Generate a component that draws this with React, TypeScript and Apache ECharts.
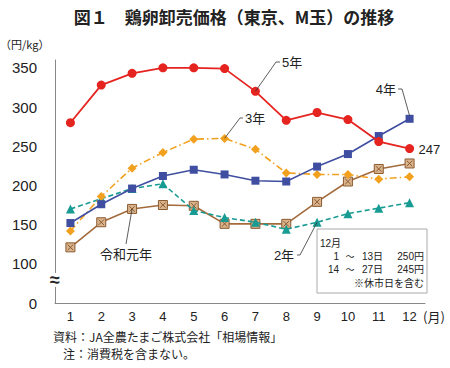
import React, { useEffect, useRef } from "react";
import * as echarts from "echarts";

const months = ["1", "2", "3", "4", "5", "6", "7", "8", "9", "10", "11", "12"];
const seriesNames = ["令和元年", "2年", "3年", "4年", "5年"];
const r1 = [121, 153, 170, 175, 174, 151, 151, 151, 179, 205, 221, 228];
const r2 = [170, 183, 196, 202, 168, 159, 153, 144, 153, 164, 171, 178];
const r3 = [142, 186, 222, 242, 259, 260, 246, 216, 214, 214, 208, 211];
const r4 = [152, 176, 196, 212, 220, 214, 206, 205, 224, 240, 263, 285];
const r5 = [280, 328, 343, 350, 350, 349, 320, 283, 293, 284, 256, 247];
const yTicks = [50, 100, 150, 200, 250, 300, 350];

const FONT = "'Liberation Sans', 'Noto Sans CJK JP', sans-serif";
const JP = "'Noto Sans CJK JP', sans-serif";

export default function App() {
  const ref = useRef<HTMLDivElement>(null);
  useEffect(() => {
    const chart = echarts.init(ref.current!, null, { renderer: "svg" });
    const base: any = {
      animation: false,
      backgroundColor: "#fff",
      grid: { left: 55, right: 25, top: 60, bottom: 65 },
      xAxis: {
        type: "category",
        data: months,
        boundaryGap: true,
        axisLine: { lineStyle: { color: "#888", width: 1 } },
        axisTick: { show: false },
        axisLabel: { fontSize: 13, color: "#222", margin: 7, fontFamily: FONT },
      },
      yAxis: {
        type: "value",
        min: 50,
        max: 360,
        interval: 50,
        axisLine: { show: true, lineStyle: { color: "#888", width: 1 } },
        axisTick: { show: false },
        splitLine: { show: false },
        axisLabel: {
          fontSize: 15,
          color: "#222",
          margin: 18,
          fontFamily: FONT,
          formatter: (v: number) =>
            v === yTicks[0] ? "0" : yTicks.indexOf(v) >= 0 ? String(v) : "",
        },
      },
      series: [
        {
          name: seriesNames[0],
          type: "line",
          data: r1,
          symbol: "path://M0,0L10,0L10,10L0,10Z M2,2L8,8 M8,2L2,8",
          symbolSize: 9,
          lineStyle: { color: "#a36b3c", width: 1.6 },
          itemStyle: { color: "#d9b38c", borderColor: "#8a5a30", borderWidth: 1 },
          z: 2,
        },
        {
          name: seriesNames[1],
          type: "line",
          data: r2,
          symbol: "triangle",
          symbolSize: 9,
          lineStyle: { color: "#179b92", width: 1.6, type: [5, 3] },
          itemStyle: { color: "#179b92" },
          z: 3,
        },
        {
          name: seriesNames[2],
          type: "line",
          data: r3,
          symbol: "diamond",
          symbolSize: 9,
          lineStyle: { color: "#f2a11f", width: 1.6, type: [7, 3, 1.5, 3] },
          itemStyle: { color: "#f2a11f" },
          z: 4,
        },
        {
          name: seriesNames[3],
          type: "line",
          data: r4,
          symbol: "rect",
          symbolSize: 8,
          lineStyle: { color: "#3f4ea0", width: 1.6 },
          itemStyle: { color: "#3f4ea0" },
          z: 5,
        },
        {
          name: seriesNames[4],
          type: "line",
          data: r5,
          symbol: "circle",
          symbolSize: 9,
          lineStyle: { color: "#e52420", width: 1.8 },
          itemStyle: { color: "#e52420" },
          z: 6,
        },
      ],
    };
    chart.setOption(base);

    const px = (i: number, arr: number[]) =>
      chart.convertToPixel({ gridIndex: 0 }, [months[i], arr[i]]) as number[];
    const p5 = px(6, r5);
    const p3 = px(5, r3);
    const p4 = px(11, r4);
    const p1 = px(2, r1);
    const p2 = px(8, r2);
    const pEnd = px(11, r5);

    const lineStyle = { stroke: "#333", lineWidth: 0.8, fill: null };
    const txt = (x: number, y: number, text: string, size: number, align = "left", extra: any = {}) => ({
      type: "text",
      x,
      y,
      z: 100,
      style: {
        text,
        fontSize: size,
        fill: "#222",
        align,
        verticalAlign: "middle",
        fontFamily: FONT,
        ...extra,
      },
    });

    chart.setOption({
      graphic: [
        txt(234, 16, "図１　鶏卵卸売価格（東京、M玉）の推移", 17, "center", { fontWeight: "bold", fontFamily: JP }),
        txt(0, 44, "（円/kg）", 11, "left", { fontFamily: JP }),
        { type: "rect", z: 90, shape: { x: 49, y: 273, width: 13, height: 14 }, style: { fill: "#fff" } },
        txt(55, 280, "≈", 18, "center", { fontWeight: "bold" }),
        txt(423, 316, "(月)", 13, "left", { fontFamily: JP }),
        // leaders
        { type: "polyline", z: 99, shape: { points: [[280, 62], [276, 62], p5] }, style: lineStyle },
        txt(282, 62, "5年", 13),
        { type: "polyline", z: 99, shape: { points: [[243, 118], [240, 118], p3] }, style: lineStyle },
        txt(245, 118, "3年", 13),
        { type: "polyline", z: 99, shape: { points: [[398, 89], [402, 89], [p4[0], p4[1] - 3]] }, style: lineStyle },
        txt(396, 89, "4年", 13, "right"),
        txt(pEnd[0] + 9, pEnd[1] + 1, String(r5[11]), 13),
        { type: "polyline", z: 99, shape: { points: [[126, 244], p1] }, style: lineStyle },
        txt(126, 253, "令和元年", 13, "center", { fontFamily: JP }),
        { type: "polyline", z: 99, shape: { points: [[297, 255], [300, 255], p2] }, style: lineStyle },
        txt(284, 255, "2年", 13, "center"),
        // box
        { type: "rect", z: 95, shape: { x: 317, y: 229, width: 110, height: 64 }, style: { fill: "#fff", stroke: "#aaa", lineWidth: 1 } },
        txt(320, 243, "12月", 10),
        txt(339, 256, "1", 10, "right"),
        txt(350, 256, "～", 9, "center", { fontFamily: JP }),
        txt(362, 256, "13日", 10),
        txt(424, 256, "250円", 10, "right"),
        txt(339, 269, "14", 10, "right"),
        txt(350, 269, "～", 9, "center", { fontFamily: JP }),
        txt(362, 269, "27日", 10),
        txt(424, 269, "245円", 10, "right"),
        txt(424, 282, "※休市日を含む", 10, "right", { fontFamily: JP }),
        // notes
        txt(53, 336, "資料：JA全農たまご株式会社「相場情報」", 12, "left", { fontFamily: JP }),
        txt(63, 353, "注：消費税を含まない。", 12, "left", { fontFamily: JP }),
      ],
    });

    return () => chart.dispose();
  }, []);
  return <div ref={ref} style={{ width: 450, height: 368, position: "absolute", left: 0, top: 0 }} />;
}
